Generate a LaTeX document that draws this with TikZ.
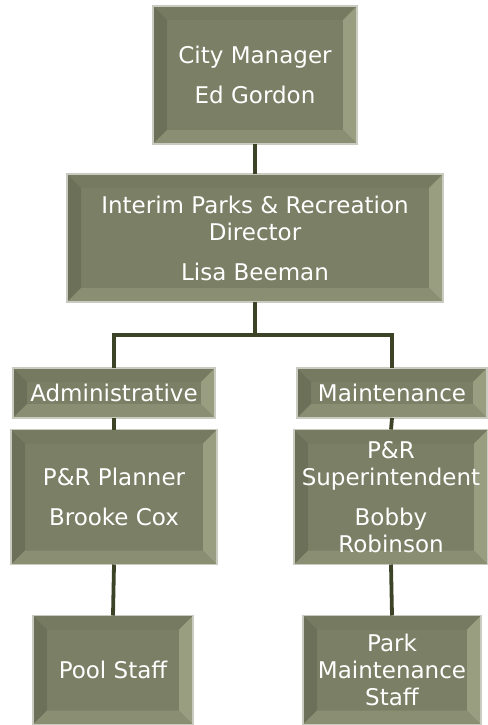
\documentclass[tikz,border=0pt]{standalone}
\usepackage{fontspec}
\setmainfont{DejaVu Sans}
\usepackage{tikz}
\usetikzlibrary{positioning, calc}
\usepackage{xcolor}

\definecolor{boxface}{HTML}{7B7F65}
\definecolor{bevtop}{HTML}{767A60}
\definecolor{bevleft}{HTML}{6D7058}
\definecolor{bevright}{HTML}{9A9E80}
\definecolor{bevbottom}{HTML}{8A8E72}
\definecolor{boxrim}{HTML}{C9CAC0}
\definecolor{linkolive}{HTML}{3C4326}
\newcommand{\bevw}{14pt}

\begin{document}
\begin{tikzpicture}[
    x=1pt, y=-1pt,
    font=\fontsize{23}{27}\selectfont,
    % Node styles
    orgbox/.style={rectangle, fill=boxface, draw=boxrim, line width=1.2pt,
        text=white, align=center, inner sep=2pt, outer sep=0pt,
        path picture={
            \path (path picture bounding box.north west) coordinate (bnw)
                  (path picture bounding box.north east) coordinate (bne)
                  (path picture bounding box.south west) coordinate (bsw)
                  (path picture bounding box.south east) coordinate (bse);
            \fill[bevtop] (bnw) -- (bne) -- ([shift={(-\bevw,-\bevw)}]bne) -- ([shift={(\bevw,-\bevw)}]bnw) -- cycle;
            \fill[bevleft] (bnw) -- ([shift={(\bevw,-\bevw)}]bnw) -- ([shift={(\bevw,\bevw)}]bsw) -- (bsw) -- cycle;
            \fill[bevright] (bne) -- ([shift={(-\bevw,-\bevw)}]bne) -- ([shift={(-\bevw,\bevw)}]bse) -- (bse) -- cycle;
            \fill[bevbottom] (bsw) -- ([shift={(\bevw,\bevw)}]bsw) -- ([shift={(-\bevw,\bevw)}]bse) -- (bse) -- cycle;
        }},
    link/.style={draw=linkolive, line width=3.8pt},
]

\useasboundingbox (0,0) rectangle (487,725);

% ============================================================================
% TOP: MANAGER AND DIRECTOR
% ============================================================================
\node[orgbox, minimum width=204pt, minimum height=138pt] (manager) at (255,75) {
    City Manager\\[13pt]
    Ed Gordon
};

\node[orgbox, minimum width=376pt, minimum height=128pt] (director) at (255,238) {
    Interim Parks \& Recreation\\
    Director\\[13pt]
    Lisa Beeman
};

% ============================================================================
% MIDDLE: DIVISIONS
% ============================================================================
\node[orgbox, minimum width=202pt, minimum height=50pt] (admin) at (114,393) {Administrative};
\node[orgbox, minimum width=190pt, minimum height=50pt] (maint) at (392,393) {Maintenance};

\node[orgbox, minimum width=206pt, minimum height=135pt] (planner) at (114,497) {
    P\&R Planner\\[13pt]
    Brooke Cox
};

\node[orgbox, minimum width=194pt, minimum height=135pt] (super) at (391,497) {
    P\&R\\
    Superintendent\\[13pt]
    Bobby\\
    Robinson
};

% ============================================================================
% BOTTOM: STAFF
% ============================================================================
\node[orgbox, minimum width=160pt, minimum height=109pt] (pool) at (113,670) {Pool Staff};

\node[orgbox, minimum width=178pt, minimum height=109pt] (parkstaff) at (392,670) {
    Park\\
    Maintenance\\
    Staff
};

% Connectors
\coordinate (bus) at (255,335);
\draw[link] (manager.south) -- (director.north);
\draw[link] (director.south) -- (bus);
\draw[link] (bus) -| (admin.north);
\draw[link] (bus) -| (maint.north);
\draw[link] (admin.south) -- (planner.north);
\draw[link] (maint.south) -- (super.north);
\draw[link] (planner.south) -- (pool.north);
\draw[link] (super.south) -- (parkstaff.north);

\end{tikzpicture}
\end{document}
